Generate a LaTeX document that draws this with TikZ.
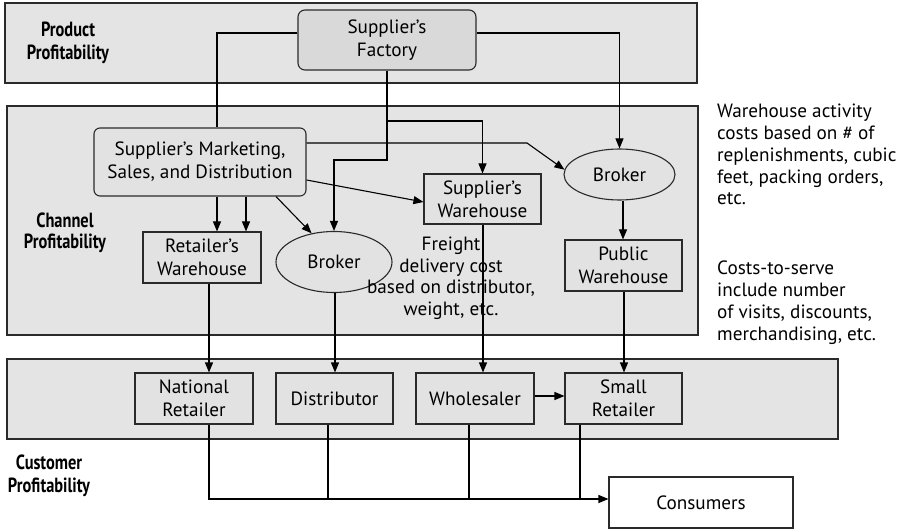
\documentclass[tikz,border=0pt]{standalone}
\usepackage{fontspec}
\setmainfont{PT Sans}
\usetikzlibrary{arrows.meta,shapes.geometric}
\definecolor{bandgray}{HTML}{E4E4E4}
\definecolor{boxgray}{HTML}{E2E2E2}
\definecolor{factgray}{HTML}{D9D9D9}
\definecolor{linec}{HTML}{2A2A2A}
\newcommand{\cnd}[1]{\scalebox{0.8}[1]{\bfseries #1}}
\tikzset{
  band/.style={draw=linec, line width=1.2pt, fill=bandgray},
  box/.style={draw=linec, line width=1.1pt, fill=boxgray, align=center, inner sep=0pt,
    font=\fontsize{19.2}{23}\selectfont},
  rbox/.style={box, rounded corners=7pt},
  oval/.style={box, ellipse},
  lbl/.style={align=center, font=\fontsize{20.5}{23.5}\selectfont},
  note/.style={align=left, anchor=north west, inner sep=0pt, font=\fontsize{19.2}{21.8}\selectfont},
  conn/.style={draw=black, line width=1.1pt},
  arr/.style={conn, -{Triangle[length=10pt,width=8pt]}}
}
\begin{document}
\begin{tikzpicture}[x=1pt,y=-1pt]
\useasboundingbox (0,0) rectangle (904,529);
% bands
\path[band] (5,3) rectangle (697,83);
\path[band] (7,106) rectangle (698,335);
\path[band] (7,359) rectangle (838,439);
% band labels
\node[lbl] (lprod) at (68,43) {\cnd{Product}\\\cnd{Profitability}};
\node[lbl, font=\fontsize{20.5}{21}\selectfont] (lchan) at (65,233) {\cnd{Channel}\\\cnd{Profitability}};
\node[lbl] (lcust) at (49,476) {\cnd{Customer}\\\cnd{Profitability}};
% nodes
\node[rbox, fill=factgray, minimum width=178pt, minimum height=60pt] (factory) at (387,40) {Supplier’s\\Factory};
\node[rbox, rounded corners=6pt, minimum width=212pt, minimum height=68pt] (mkt) at (200,162) {Supplier’s Marketing,\\Sales, and Distribution};
\node[box, minimum width=118pt, minimum height=51pt] (rw) at (202,257.5) {Retailer’s\\Warehouse};
\node[oval, minimum width=116pt, minimum height=61pt] (broker1) at (334,262) {Broker};
\node[box, minimum width=117pt, minimum height=50pt] (sw) at (482.5,199) {Supplier’s\\Warehouse};
\node[oval, minimum width=111pt, minimum height=51pt] (broker2) at (619.5,174.5) {Broker};
\node[box, minimum width=117pt, minimum height=51pt] (pw) at (623.5,265.5) {Public\\Warehouse};
\node[box, minimum width=118pt, minimum height=51pt] (nr) at (194,398.5) {National\\Retailer};
\node[box, minimum width=117pt, minimum height=51pt] (dist) at (334.5,398.5) {Distributor};
\node[box, minimum width=118pt, minimum height=51pt] (whol) at (475,398.5) {Wholesaler};
\node[box, minimum width=117pt, minimum height=51pt] (sr) at (623.5,398.5) {Small\\Retailer};
\node[box, fill=white, minimum width=184pt, minimum height=51pt] (cons) at (701,502.5) {Consumers};
% connectors
\draw[conn] ([yshift=7pt]factory.west) -| (mkt.north -| 217,0);
\draw[arr] ([yshift=7pt]factory.east) -| (broker2.north);
\draw[arr] (factory.south) -- (factory.south |- 0,160) -| (broker1.north);
\draw[arr] (factory.south |- 0,121) -| (sw.north);
\draw[arr] (mkt.east |- 0,143) -- (527,143) -- (broker2.175);
\draw[arr] (mkt.south -| 276,0) -- (broker1.128);
\draw[arr] (mkt.east |- 0,180) -- ([yshift=-3pt]sw.west);
\draw[arr] (mkt.south -| 217,0) -- (rw.north -| 217,0);
\draw[arr] (mkt.south -| 246,0) -- (rw.north -| 246,0);
\draw[arr] (broker2.south -| 623,0) -- (pw.north -| 623,0);
\draw[arr] (rw.south -| 209,0) -- (nr.north -| 209,0);
\draw[arr] (broker1.south -| 335,0) -- (dist.north -| 335,0);
\draw[arr] (sw.south -| 483,0) -- (whol.north -| 483,0);
\draw[arr] (pw.south -| 624,0) -- (sr.north -| 624,0);
\draw[arr] ([yshift=2.5pt]whol.east) -- ([yshift=2.5pt]sr.west);
\draw[arr] (nr.south -| 209,0) |- ([yshift=3.5pt]cons.west);
\draw[conn] (dist.south -| 328,0) -- (328,499);
\draw[conn] (whol.south -| 469,0) -- (469,499);
\draw[conn] (sr.south -| 580,0) -- (580,499);
% freight text
\node[align=center, inner sep=0pt, font=\fontsize{19.2}{21.5}\selectfont] (freight) at (451,278) {Freight\\delivery cost\\based on distributor,\\weight, etc.};
% notes
\node[note] (n1) at (717,104) {Warehouse activity\\costs based on \# of\\replenishments, cubic\\feet, packing orders,\\etc.};
\node[note] (n2) at (717,261) {Costs-to-serve\\include number\\of visits, discounts,\\merchandising, etc.};
\end{tikzpicture}
\end{document}
